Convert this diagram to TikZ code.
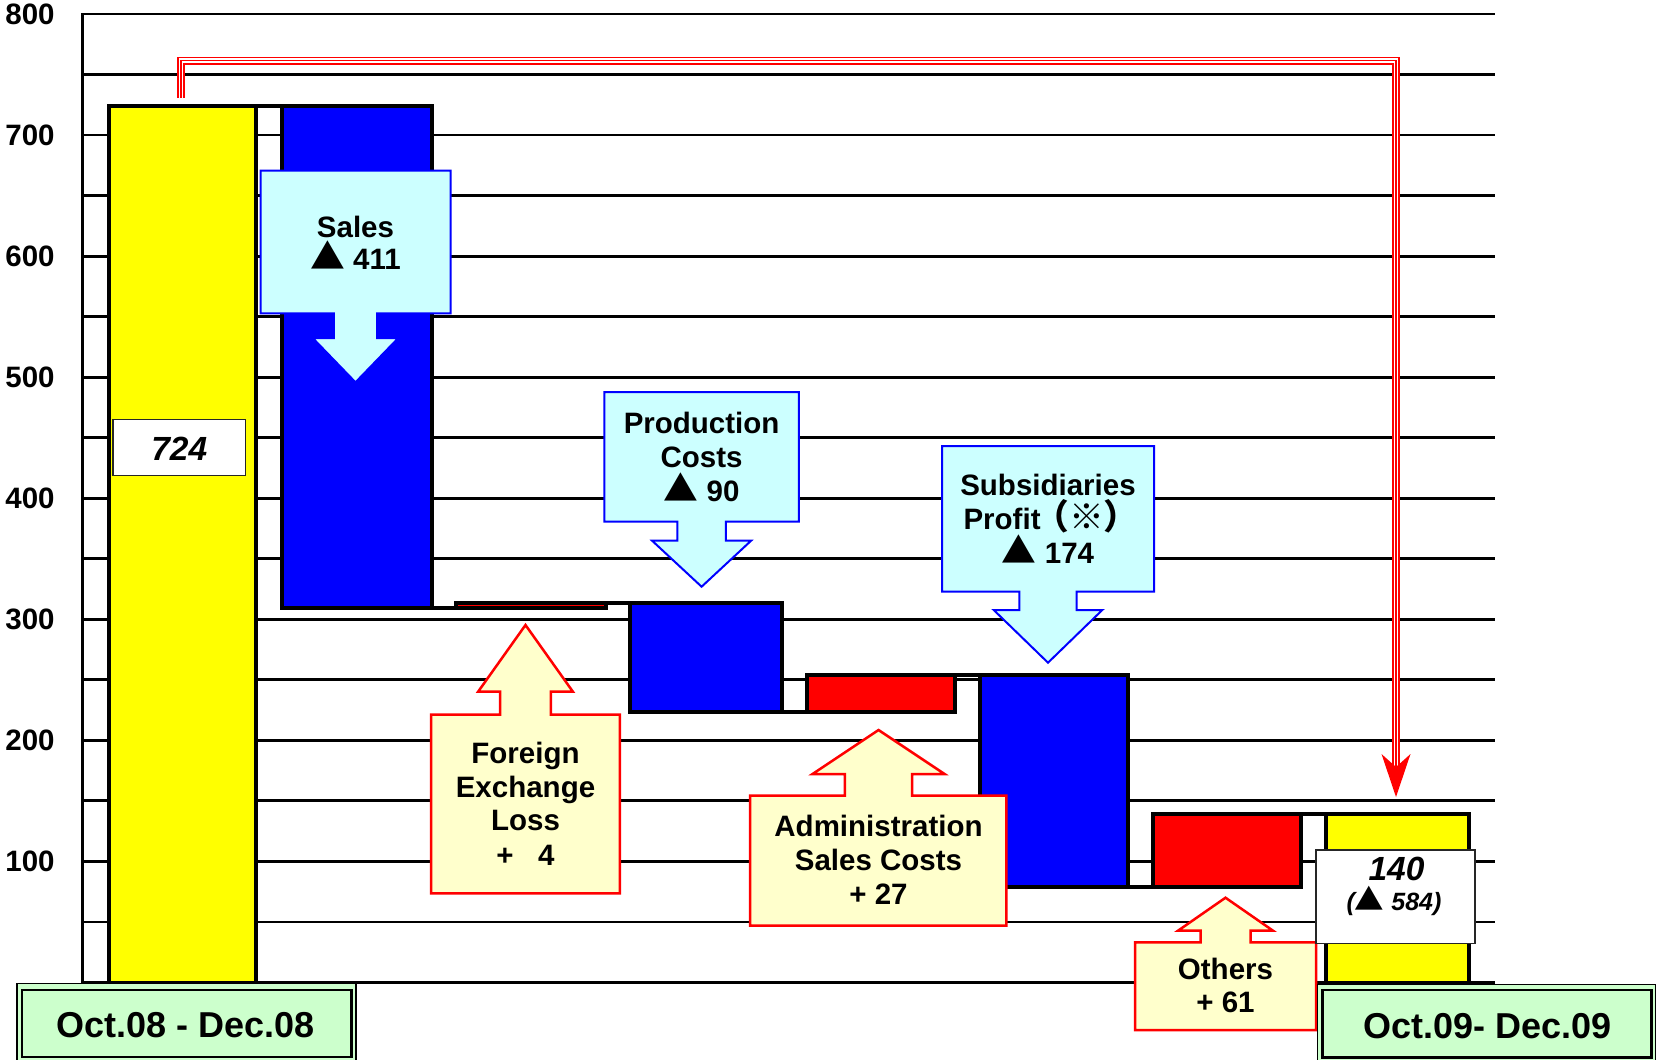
\documentclass[tikz,border=0pt]{standalone}
\usepackage{fontspec}
\setmainfont{Liberation Sans}
\newfontfamily\cjk[Scale=1.18]{Noto Sans CJK JP}
\usetikzlibrary{fit}
\definecolor{barYellow}{RGB}{255,255,0}
\definecolor{barBlue}{RGB}{0,0,255}
\definecolor{barRed}{RGB}{255,0,0}
\definecolor{callCyan}{RGB}{204,255,255}
\definecolor{callCream}{RGB}{255,255,204}
\definecolor{labGreen}{RGB}{204,255,204}
\newcommand\mytri{{\cjk ▲}}
\begin{document}
\begin{tikzpicture}[x=0.5pt,y=-0.5pt,line join=miter,
  gridl/.style={draw=black,line width=1.4pt},
  bar/.style={draw=black,line width=2pt,inner sep=0pt,outer sep=0pt,rectangle},
  conn/.style={draw=black,line width=2pt},
  downcall/.style={draw=barBlue,line width=1pt,fill=callCyan},
  upcall/.style={draw=barRed,line width=1.25pt,fill=callCream},
  ctext/.style={font=\bfseries\fontsize{14.75}{17}\selectfont,anchor=base,inner sep=0pt},
  ylab/.style={font=\bfseries\fontsize{14.75}{17}\selectfont,anchor=base east,inner sep=0pt},
  valbox/.style={draw=black!85,line width=0.65pt,fill=white,inner sep=0pt,outer sep=0pt,rectangle},
  vtext/.style={font=\bfseries\itshape\fontsize{16.75}{19}\selectfont,anchor=base,inner sep=0pt},
  vsmall/.style={font=\bfseries\itshape\fontsize{12.5}{15}\selectfont,anchor=base,inner sep=0pt},
  greenout/.style={draw=black,line width=0.8pt,fill=labGreen,inner sep=0pt,outer sep=0pt,rectangle},
  greenin/.style={draw=black,line width=1.3pt,inner sep=0pt,outer sep=0pt,rectangle},
  gtext/.style={font=\bfseries\fontsize{18}{21}\selectfont,anchor=base,inner sep=0pt},
]
\fill[white] (0,0) rectangle (1656,1060);
\useasboundingbox (0,0) rectangle (1656,1060);

% grid lines and axis
\foreach \k in {0,...,16}{
  \draw[gridl] (82.7,{14+\k*60.53}) -- (1495,{14+\k*60.53});
}
\draw[gridl] (82.7,13.3) -- (82.7,983.2);
\foreach \v [count=\i from 0] in {800,700,600,500,400,300,200,100}{
  \node[ylab] (yl\v) at (55,{24.5+\i*121.06}) {\v};
}

% bars
\node[bar,fill=barYellow,fit={(108.8,106) (255.6,982.5)}] (yel1) {};
\node[bar,fill=barBlue,fit={(282,106) (431.7,608)}] (sales) {};
\node[bar,fill=barRed,fit={(456.4,603) (605.6,608)}] (fx) {};
\node[bar,fill=barBlue,fit={(629.7,603) (782,712)}] (prod) {};
\node[bar,fill=barRed,fit={(806.5,674.5) (955,712)}] (admin) {};
\node[bar,fill=barBlue,fit={(979.5,674.5) (1128.3,887)}] (subs) {};
\node[bar,fill=barRed,fit={(1152.7,814) (1300.7,887)}] (others) {};
\node[bar,fill=barYellow,fit={(1325.7,814) (1469.3,982.5)}] (yel2) {};

% connectors between bars
\draw[conn] (yel1.north east) -- (sales.north west);
\draw[conn] (sales.south east) -- (fx.south west);
\draw[conn] (fx.north east) -- (prod.north west);
\draw[conn] (prod.south east) -- (admin.south west);
\draw[conn] (admin.north east) -- (subs.north west);
\draw[conn] (subs.south east) -- (others.south west);
\draw[conn] (others.north east) -- (yel2.north west);

% down callouts
\draw[downcall] (260.5,170.7) -- (450.5,170.7) -- (450.5,313.3) -- (377.2,313.3) -- (377.2,338) -- (398.3,338) -- (355.5,382.3) -- (312.7,338) -- (333.8,338) -- (333.8,313.3) -- (260.5,313.3) -- cycle;
\draw[downcall] (604.4,392) -- (798.8,392) -- (798.8,521.7) -- (725.9,521.7) -- (725.9,540.7) -- (751.1,540.7) -- (701.6,586.7) -- (652.1,540.7) -- (677.3,540.7) -- (677.3,521.7) -- (604.4,521.7) -- cycle;
\draw[downcall] (942,446) -- (1154,446) -- (1154,591.7) -- (1076.7,591.7) -- (1076.7,610) -- (1102.3,610) -- (1048,662.7) -- (993.7,610) -- (1019.3,610) -- (1019.3,591.7) -- (942,591.7) -- cycle;

% up callouts
\draw[upcall] (431,893.4) -- (431,714.5) -- (500.2,714.5) -- (500.2,691.7) -- (478.1,691.7) -- (525.5,625) -- (572.9,691.7) -- (550.8,691.7) -- (550.8,714.5) -- (619.8,714.5) -- (619.8,893.4) -- cycle;
\draw[upcall] (750.2,925.7) -- (750.2,795.7) -- (844.9,795.7) -- (844.9,774) -- (812.5,774) -- (878.5,730) -- (944.5,774) -- (912.1,774) -- (912.1,795.7) -- (1006.4,795.7) -- (1006.4,925.7) -- cycle;
\draw[upcall] (1135,1030) -- (1135,942.3) -- (1200.5,942.3) -- (1200.5,930.7) -- (1178,930.7) -- (1225.5,897.7) -- (1273,930.7) -- (1250.5,930.7) -- (1250.5,942.3) -- (1316,942.3) -- (1316,1030) -- cycle;

% callout texts
\node[ctext] (salesA) at (355.5,237) {Sales};
\node[ctext] (salesB) at (355.5,269.5) {\mytri\ 411};
\node[ctext] (prodA) at (701.6,433.8) {Production};
\node[ctext] (prodB) at (701.6,467.8) {Costs};
\node[ctext] (prodC) at (701.6,501.2) {\mytri\ 90};
\node[ctext] (subsA) at (1048,495) {Subsidiaries};
\node[ctext] (subsB) at (1048,529.3) {Profit{\cjk\kern-0.18em（※）\kern-0.18em}};
\node[ctext] (subsC) at (1048,563.3) {\mytri\ 174};
\node[ctext] (fxA) at (525.5,763.3) {Foreign};
\node[ctext] (fxB) at (525.5,797.3) {Exchange};
\node[ctext] (fxC) at (525.5,830.7) {Loss};
\node[ctext] (fxD) at (525.5,865.7) {+\ \ \ 4};
\node[ctext] (admA) at (878.5,836.7) {Administration};
\node[ctext] (admB) at (878.5,870.7) {Sales Costs};
\node[ctext] (admC) at (878.5,904) {+ 27};
\node[ctext] (othA) at (1225.5,979.3) {Others};
\node[ctext] (othB) at (1225.5,1012.7) {+ 61};

% value boxes
\node[valbox,fit={(113,419.3) (245.7,475.7)}] (v724box) {};
\node[vtext] (v724) at (179.3,460) {724};
\node[valbox,fit={(1316,850) (1475,943.3)}] (v140box) {};
\node[vtext] (v140) at (1396.5,880) {140};
\node[vsmall] (v584) at (1394,910.7) {(\mytri\ 584)};

% period labels
\node[greenout,fit={(16.7,983.3) (356,1062)}] (g1out) {};
\node[greenin,fit={(22,990) (351.5,1057)}] (g1in) {};
\node[gtext] (g1txt) at (185.5,1037.3) {Oct.08 - Dec.08};
\node[greenout,fit={(1317.3,984.3) (1655.4,1062)}] (g2out) {};
\node[greenin,fit={(1322.7,990) (1651.7,1057.7)}] (g2in) {};
\node[gtext] (g2txt) at (1487.2,1038.3) {Oct.09- Dec.09};

% red triple-line arrow
\coordinate (arrS) at (181,98);
\coordinate (arrC) at (1396,60.5);
\coordinate (arrE) at (1396,772);
\coordinate (arrT) at (1396,797);
\def\redpath{(arrS) |- (arrC) -- (arrE)}
\draw[barRed,line width=4pt] \redpath;
\draw[white,line width=2.4pt] \redpath;
\draw[barRed,line width=0.9pt] \redpath;
\fill[barRed] (arrT) -- (1410.5,754) -- (1396,767) -- (1381.5,754) -- cycle;
\end{tikzpicture}
\end{document}
